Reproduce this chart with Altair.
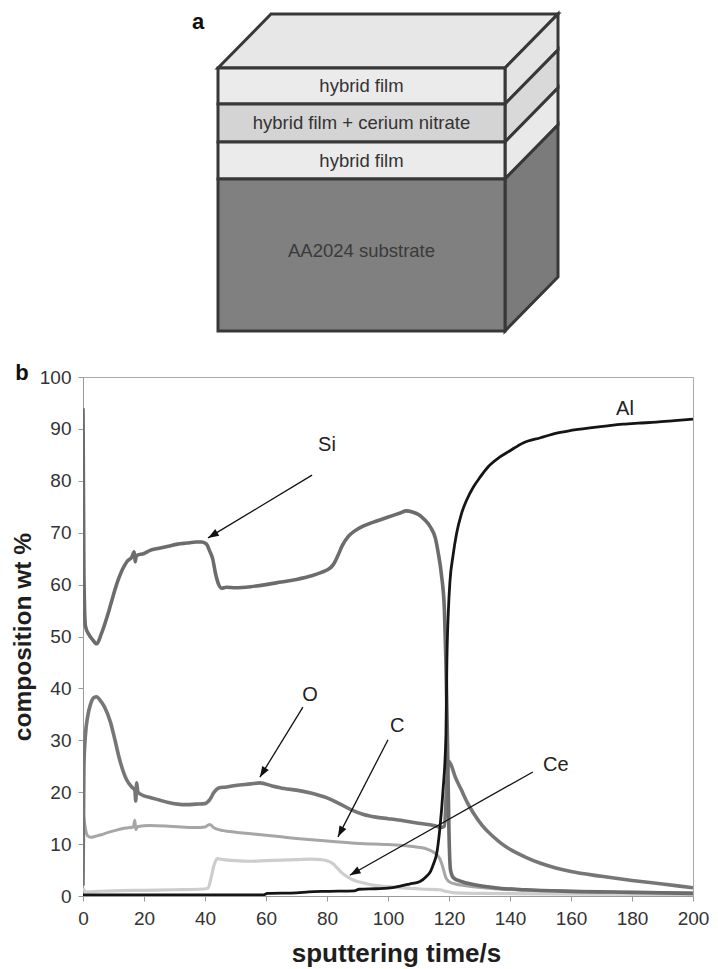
import math
import altair as alt
import pandas as pd

# ---------------- panel b : depth profile data ----------------
si_t = [0, 0.3, 0.8, 2, 3, 4.5, 6, 8, 9, 11, 13, 14.5, 16, 16.8, 17.1, 17.5, 18, 20, 22, 25, 28, 31, 34, 37,
        39, 40.5, 41.5, 42.5, 43.5, 44.5, 45.5, 47, 50, 55, 60, 65, 70, 75, 78, 80, 82, 83.5, 85, 87, 89,
        92, 95, 98, 101, 104, 106, 108, 110, 112, 114, 115.5, 116.5, 117.5, 118.5, 119, 119.5, 120, 120.5,
        121.5, 124, 128, 135, 145, 160, 180, 200]
si_v = [94, 62, 52, 50.3, 49.5, 48.6, 50.5, 54, 56, 60, 63, 64.5, 65.3, 66.3, 64.4, 65.6, 65.7, 66, 66.6, 67,
        67.4, 67.8, 68, 68.2, 68.2, 67.8, 66.5, 65, 62, 60, 59.3, 59.5, 59.4, 59.6, 60, 60.5, 61, 61.7, 62.3,
        62.8, 63.8, 65.5, 67.5, 69.3, 70.3, 71.3, 72, 72.6, 73.2, 73.8, 74.2, 74, 73.5, 72.5, 71, 69, 66, 62,
        55, 45, 30, 12, 5, 3.5, 2.8, 2.2, 1.6, 1.2, 0.9, 0.7, 0.5]

o_t = [0, 0.3, 0.8, 1.5, 2.5, 3.5, 4.5, 5.5, 7, 9, 10.5, 12, 14.3, 16, 17, 17.3, 17.6, 18, 20, 22, 25, 28,
       31, 34, 37, 40, 41.5, 43, 44.5, 47, 50, 55, 58, 62, 66, 70, 75, 80, 84, 88, 92, 96, 100, 105, 110,
       115, 117.5, 118.5, 119.3, 119.8, 120.5, 122, 124, 126, 128, 131, 134, 137, 140, 145, 150, 155, 160,
       170, 180, 190, 200]
o_v = [2, 25, 31, 34.5, 37, 38.2, 38.4, 37.8, 36.5, 33.5, 30, 26.3, 22.4, 21, 20.4, 18.3, 21.8, 20, 19.3, 19,
       18.5, 18, 17.7, 17.6, 17.7, 17.8, 18.5, 20, 20.8, 21, 21.3, 21.6, 21.8, 21.2, 20.7, 20.4, 19.8, 18.9,
       17.8, 16.6, 15.7, 15.2, 14.9, 14.5, 14, 13.6, 13.2, 13.5, 22, 26, 25.5, 23, 20.5, 18, 16, 13.5, 11.7,
       10.2, 9, 7.5, 6.3, 5.4, 4.7, 3.8, 3, 2.3, 1.6]

c_t = [0, 0.3, 0.8, 1.5, 2.5, 4, 6, 8, 11, 14, 16.5, 17, 17.3, 18, 22, 27, 32, 37, 40, 41.5, 43, 46, 50,
       55, 60, 65, 70, 76, 82, 88, 95, 100, 106, 110, 113, 115.5, 117, 118, 119, 120.5, 123, 128, 135, 145,
       160, 180, 200]
c_v = [16, 15, 13, 11.6, 11.3, 11.5, 11.8, 12.2, 12.7, 13.1, 13.3, 14.6, 12.8, 13.4, 13.6, 13.5, 13.3, 13.2,
       13.3, 13.8, 13.1, 12.6, 12.3, 12.0, 11.7, 11.4, 11.1, 10.8, 10.5, 10.2, 10.0, 9.9, 9.7, 9.4, 9.0, 8.2,
       7.2, 5.5, 3.5, 2.6, 2.2, 1.8, 1.4, 1.1, 0.9, 0.7, 0.6]

ce_t = [0, 1, 5, 10, 20, 30, 38, 41, 42, 43, 44, 46, 50, 55, 60, 65, 70, 75, 78, 80, 82, 83.5, 85, 87, 89,
        92, 95, 100, 106, 112, 117, 119, 122, 130, 150, 200]
ce_v = [1.5, 0.8, 0.9, 1.0, 1.1, 1.2, 1.3, 1.5, 3.5, 6.0, 7.2, 7.0, 6.8, 6.7, 6.8, 6.9, 7.0, 7.1, 7.0, 6.8,
        6.2, 5.3, 4.4, 3.6, 3.0, 2.5, 2.1, 1.8, 1.5, 1.3, 1.2, 0.9, 0.6, 0.5, 0.4, 0.3]

al_t = [0, 20, 40, 59, 60.5, 70, 74, 80, 89, 90.5, 96, 100, 104, 107, 110.5, 112.5, 114, 115, 116, 117, 118,
        119, 119.3, 119.8, 120.3, 121.3, 122.5, 124, 125.8, 128, 130.2, 133, 136.7, 140, 144.3, 150, 155.3,
        160, 166.2, 172, 177, 182, 188, 194, 200]
al_v = [0.2, 0.2, 0.2, 0.2, 0.5, 0.6, 0.8, 0.9, 1.0, 1.3, 1.4, 1.5, 1.9, 2.3, 2.8, 3.7, 4.8, 6.3, 8.3, 13,
        20, 31, 45, 55, 60.5, 65.5, 69.9, 73.5, 76.3, 78.8, 80.7, 82.8, 84.6, 85.8, 87.3, 88.3, 89.2, 89.7,
        90.2, 90.6, 90.9, 91.1, 91.3, 91.6, 91.9]

series_names = ["Ce", "C", "O", "Si", "Al"]
series_t = [ce_t, c_t, o_t, si_t, al_t]
series_v = [ce_v, c_v, o_v, si_v, al_v]
series_colors = ["#cdcdcd", "#a6a6a6", "#767676", "#6c6c6c", "#151515"]
series_widths = [3.2, 3.0, 3.6, 3.6, 2.8]

# curve labels and arrows (label position, arrow start, arrow tip)
label_text = ["Si", "O", "C", "Ce", "Al"]
label_t = [80, 74.4, 103, 155, 177.7]
label_v = [86.9, 38.7, 32.8, 25.2, 93.8]
arrow_t0 = [75.1, 72.1, 100, 147.5]
arrow_v0 = [81.1, 36.4, 30.1, 23.9]
arrow_t1 = [41, 58, 83.6, 87.5]
arrow_v1 = [69, 22.9, 11.4, 4.0]

x_ticks = list(range(0, 201, 20))
y_ticks = list(range(0, 101, 10))

# ---------------- panel a : layered specimen schematic ----------------
layer_names = ["hybrid film", "hybrid film + cerium nitrate", "hybrid film", "AA2024 substrate"]
layer_thick = [36, 38, 37, 152]
front_fill = ["#ebebeb", "#d4d4d4", "#ebebeb", "#808080"]
side_fill = ["#e4e4e4", "#d9d9d9", "#e9e9e9", "#7b7b7b"]
text_color = ["#333333", "#333333", "#333333", "#3a3a3a"]
top_fill = "#e7e7e7"
edge_color = "#383838"

# ---------------- layout constants ----------------
W, H = 718, 969
PL, PT, PW, PH = 83, 377, 610, 519
FONT = "Liberation Sans"
BOX_L, BOX_R, BOX_T = 218, 505, 68
DEPTH_X, DEPTH_Y = 53, 54

# ---------------- panel b chart ----------------
X = alt.X("t:Q", scale=alt.Scale(domain=[0, 200], nice=False, zero=False),
          axis=alt.Axis(orient="bottom", values=x_ticks, title="sputtering time/s", grid=False,
                        labelFont=FONT, labelFontSize=19, labelColor="#333333", labelFlush=False,
                        labelPadding=8, tickSize=5, tickColor="#999999", domainColor="#999999",
                        titleFont=FONT, titleFontSize=26, titleFontWeight="bold", titleColor="#1e1e1e",
                        titlePadding=12, titleX=313, titleAlign="center"))
Y = alt.Y("v:Q", scale=alt.Scale(domain=[0, 100], nice=False, zero=False),
          axis=alt.Axis(orient="left", values=y_ticks, title="composition wt %", grid=False,
                        labelFont=FONT, labelFontSize=19, labelColor="#333333", labelFlush=False,
                        labelPadding=7, tickSize=5, tickColor="#999999", domainColor="#999999",
                        titleFont=FONT, titleFontSize=24.5, titleFontWeight="bold", titleColor="#1e1e1e",
                        titlePadding=4))

plot_layers = []
for name, ts, vs, col, sw in zip(series_names, series_t, series_v, series_colors, series_widths):
    df = pd.DataFrame({"t": ts, "v": vs, "el": name})
    plot_layers.append(
        alt.Chart(df).mark_line(color=col, strokeWidth=sw, strokeJoin="round", interpolate="monotone",
                                clip=True)
        .encode(x=X, y=Y)
    )

sx, sy = PW / 200.0, PH / 100.0
angles = []
for a0, b0, a1, b1 in zip(arrow_t0, arrow_v0, arrow_t1, arrow_v1):
    dpx = (a1 - a0) * sx
    dpy = -(b1 - b0) * sy
    angles.append(math.degrees(math.atan2(dpx, -dpy)) % 360)

arrows_df = pd.DataFrame({"t": arrow_t0, "v": arrow_v0, "t2": arrow_t1, "v2": arrow_v1})
heads_df = pd.DataFrame({"t": arrow_t1, "v": arrow_v1, "ang": angles})
labels_df = pd.DataFrame({"t": label_t, "v": label_v, "txt": label_text})

plot_layers.append(
    alt.Chart(arrows_df).mark_rule(color="#111111", strokeWidth=1.3)
    .encode(x=X, y=Y, x2="t2:Q", y2="v2:Q")
)
plot_layers.append(
    alt.Chart(heads_df).mark_point(shape="M0,0L0.36,1L-0.36,1Z", filled=True, size=460,
                                   color="#111111", opacity=1)
    .encode(x=X, y=Y, angle=alt.Angle("ang:Q", scale=None))
)
plot_layers.append(
    alt.Chart(labels_df).mark_text(font=FONT, fontSize=20, color="#222222")
    .encode(x=X, y=Y, text="txt:N")
)
plot = alt.layer(*plot_layers)

# ---------------- panel a chart (page-pixel scales) ----------------
DX = alt.X("px:Q", scale=alt.Scale(domain=[0, W], range=[-PL, W - PL], nice=False, zero=False), axis=None)
DY = alt.Y("py:Q", scale=alt.Scale(domain=[0, H], range=[-PT, H - PT], nice=False, zero=False), axis=None)

tops = [BOX_T]
for th in layer_thick:
    tops.append(tops[-1] + th)

top_df = pd.DataFrame({"py": [BOX_T, BOX_T - DEPTH_Y],
                       "px": [BOX_L, BOX_L + DEPTH_X],
                       "px2": [BOX_R, BOX_R + DEPTH_X]})
side_rows = []
front_rows = []
text_rows = []
for i, name in enumerate(layer_names):
    y0, y1 = tops[i], tops[i + 1]
    side_rows.append({"id": i, "px": BOX_R, "py": y0, "py2": y1, "fill": side_fill[i]})
    side_rows.append({"id": i, "px": BOX_R + DEPTH_X, "py": y0 - DEPTH_Y, "py2": y1 - DEPTH_Y,
                      "fill": side_fill[i]})
    front_rows.append({"px": BOX_L, "px2": BOX_R, "py": y0, "py2": y1, "fill": front_fill[i]})
    ty = (y0 + y1) / 2 if i < 3 else y0 + 72
    text_rows.append({"px": (BOX_L + BOX_R) / 2, "py": ty, "txt": name, "col": text_color[i]})

top_face = alt.Chart(top_df).mark_area(orient="horizontal", fill=top_fill, stroke=edge_color,
                                       strokeWidth=3, strokeJoin="miter", opacity=1) \
    .encode(y=DY, x=DX, x2="px2:Q")
side_faces = alt.Chart(pd.DataFrame(side_rows)).mark_area(orient="vertical", stroke=edge_color,
                                                          strokeWidth=3, strokeJoin="miter", opacity=1) \
    .encode(x=DX, y=DY, y2="py2:Q", detail="id:N", fill=alt.Fill("fill:N", scale=None))
front = alt.Chart(pd.DataFrame(front_rows)).mark_rect(stroke=edge_color, strokeWidth=3, opacity=1) \
    .encode(x=DX, x2="px2:Q", y=DY, y2="py2:Q", fill=alt.Fill("fill:N", scale=None))
texts = alt.Chart(pd.DataFrame(text_rows)).mark_text(font=FONT, fontSize=18.5, baseline="middle") \
    .encode(x=DX, y=DY, text="txt:N", color=alt.Color("col:N", scale=None))
panel_labels = alt.Chart(pd.DataFrame({"px": [198, 22], "py": [22, 373], "txt": ["a", "b"]})) \
    .mark_text(font=FONT, fontSize=22, fontWeight="bold", color="#111111", baseline="middle") \
    .encode(x=DX, y=DY, text="txt:N")

diagram = alt.layer(top_face, side_faces, front, texts, panel_labels)

chart = alt.layer(plot, diagram).resolve_scale(x="independent", y="independent").properties(
    width=PW, height=PH,
    autosize=alt.AutoSizeParams(type="none"),
    padding={"left": PL, "top": PT, "right": W - PL - PW, "bottom": H - PT - PH},
    background="white",
).configure_view(stroke="#aaaaaa", strokeWidth=1)

chart.save("out.html", embed_options={"renderer": "svg", "actions": False})
